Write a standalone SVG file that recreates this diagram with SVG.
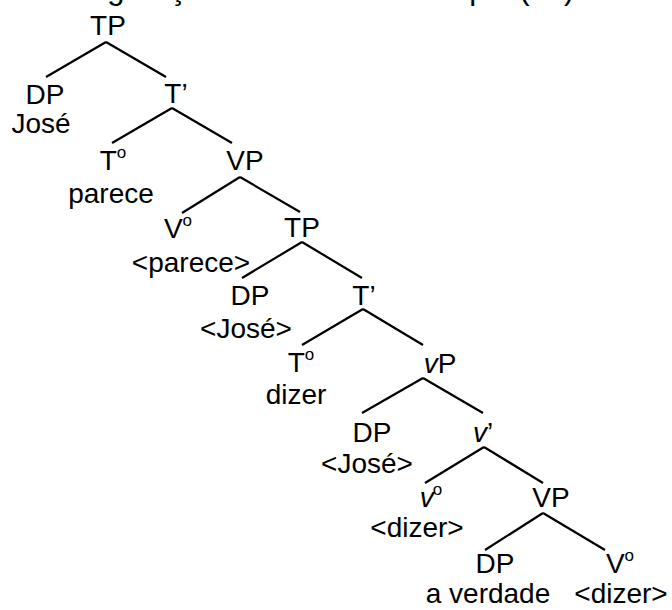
<svg xmlns="http://www.w3.org/2000/svg" width="672" height="610" viewBox="0 0 672 610">
  <style>
    text { font-family: "Liberation Sans", Arial, sans-serif; font-size: 28px; fill: #000; text-anchor: middle; }
    .title { font-size: 31px; text-anchor: start; }
    .it { font-style: italic; }
    .sup { font-size: 17px; }
    #edges line { stroke: #000; stroke-width: 2.2; stroke-linecap: butt; }
  </style>
  <rect width="672" height="610" fill="#fff"/>

  <!-- caption line, running off the top edge -->
  <text class="title" x="35" y="-1">Configuração sintática do exemplo (12)</text>

  <!-- branches -->
  <g id="edges">
    <line x1="106" y1="42" x2="46" y2="77"/>
    <line x1="106" y1="42" x2="166" y2="77"/>
    <line x1="172" y1="108" x2="112" y2="143"/>
    <line x1="172" y1="108" x2="232" y2="143"/>
    <line x1="240" y1="177" x2="182" y2="213"/>
    <line x1="240" y1="177" x2="300" y2="212"/>
    <line x1="302" y1="242" x2="242" y2="278"/>
    <line x1="302" y1="242" x2="362" y2="278"/>
    <line x1="363" y1="309" x2="302" y2="345"/>
    <line x1="363" y1="309" x2="423" y2="345"/>
    <line x1="423" y1="378" x2="362" y2="413"/>
    <line x1="423" y1="378" x2="483" y2="413"/>
    <line x1="484" y1="447" x2="425" y2="483"/>
    <line x1="484" y1="447" x2="543" y2="483"/>
    <line x1="543" y1="513" x2="485" y2="550"/>
    <line x1="543" y1="513" x2="605" y2="550"/>
  </g>

  <g id="tp1"><text x="108" y="35">TP</text></g>
  <g id="dp1"><text x="45" y="104">DP</text><text x="41" y="133">José</text></g>
  <g id="tbar1"><text x="176" y="103">T’</text></g>
  <g id="t1"><text x="113" y="170">T<tspan class="sup" dy="-12">o</tspan></text><text x="111" y="203">parece</text></g>
  <g id="vp1"><text x="245" y="170">VP</text></g>
  <g id="v1"><text x="178" y="238">V<tspan class="sup" dy="-12">o</tspan></text><text x="191" y="272">&lt;parece&gt;</text></g>
  <g id="tp2"><text x="302" y="237">TP</text></g>
  <g id="dp2"><text x="250" y="305">DP</text><text x="246" y="338">&lt;José&gt;</text></g>
  <g id="tbar2"><text x="364" y="305">T’</text></g>
  <g id="t2"><text x="301" y="372">T<tspan class="sup" dy="-12">o</tspan></text><text x="296" y="404">dizer</text></g>
  <g id="littlevp"><text x="440" y="373"><tspan class="it">v</tspan>P</text></g>
  <g id="dp3"><text x="372" y="442">DP</text><text x="367" y="473">&lt;José&gt;</text></g>
  <g id="littlevbar"><text x="483" y="442"><tspan class="it">v</tspan>’</text></g>
  <g id="littlev"><text x="431" y="507"><tspan class="it">v</tspan><tspan class="sup" dx="-1" dy="-12">o</tspan></text><text x="417" y="537">&lt;dizer&gt;</text></g>
  <g id="vp2"><text x="551" y="507">VP</text></g>
  <g id="dp4"><text x="495" y="573">DP</text><text x="488" y="603">a verdade</text></g>
  <g id="v2"><text x="620" y="573">V<tspan class="sup" dy="-12">o</tspan></text><text x="621" y="603">&lt;dizer&gt;</text></g>
</svg>
